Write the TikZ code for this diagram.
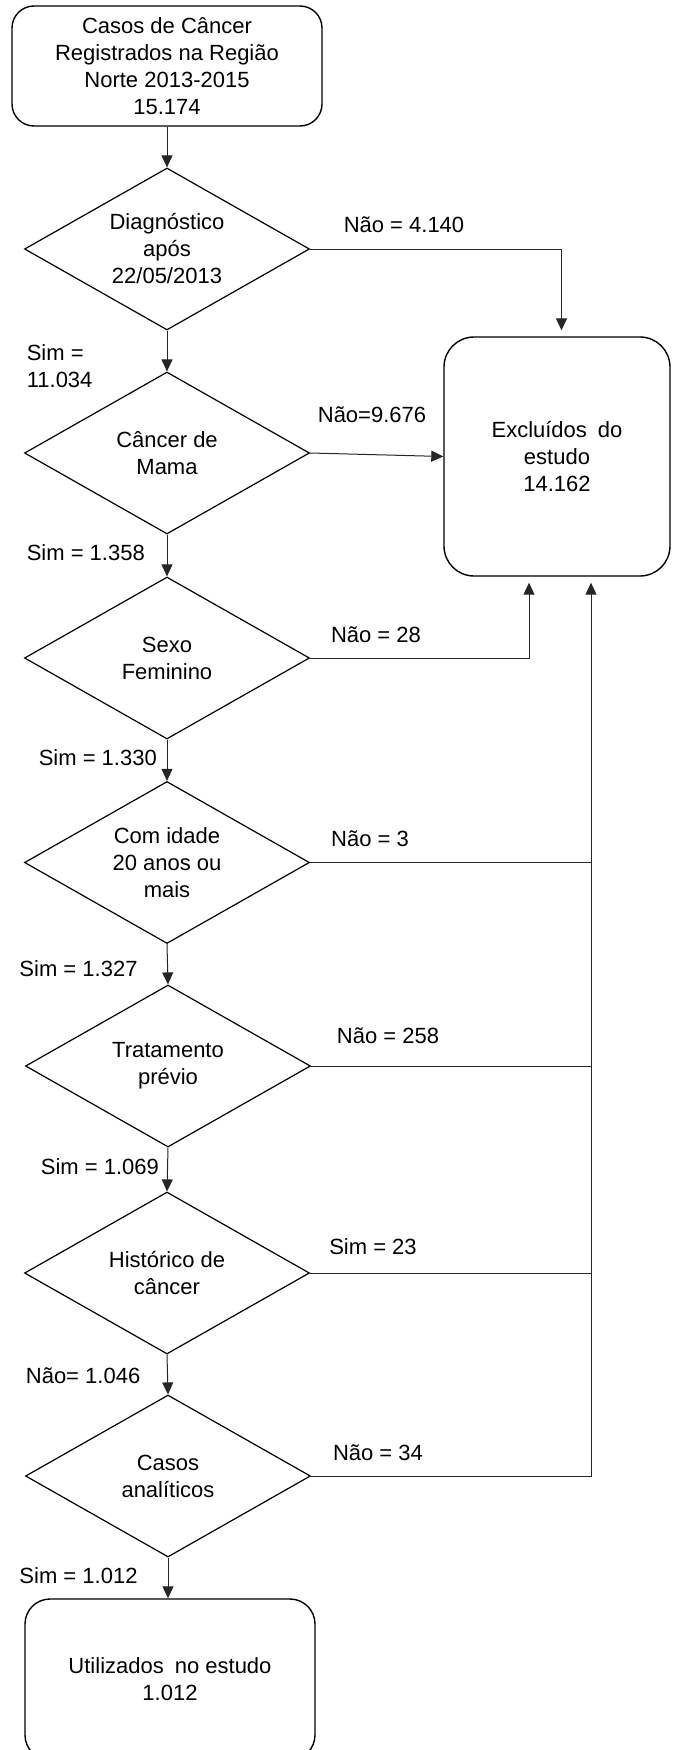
\documentclass[tikz,border=0pt]{standalone}
\usepackage{fontspec}
\setmainfont{Liberation Sans}
\usetikzlibrary{shapes.geometric,arrows.meta,calc}
\begin{document}
\begin{tikzpicture}[x=1pt,y=-1pt,
  every node/.style={font=\fontsize{22}{27}\selectfont},
  box/.style={draw=black,line width=1.4pt,rounded corners=#1,align=center,inner sep=0pt},
  dec/.style={draw=black,line width=1.2pt,diamond,aspect=1.76,minimum width=285pt,minimum height=162pt,inner sep=0pt,align=center},
  lbl/.style={inner sep=0pt},
  conn/.style={draw=black!85,line width=1pt},
  arr/.style={conn,-{Triangle[length=12pt,width=11pt]}}]
\useasboundingbox (0,0) rectangle (672,1750);

% main column
\node[box=22pt,minimum width=310pt,minimum height=120pt] (top) at (167,66) {Casos de Câncer\\Registrados na Região\\Norte 2013-2015\\15.174};
\node[dec] (d1) at (167,249) {Diagnóstico\\após\\22/05/2013};
\node[dec] (d2) at (167,453) {Câncer de\\Mama};
\node[dec] (d3) at (167,658) {Sexo\\Feminino};
\node[dec] (d4) at (167,862.5) {Com idade\\20 anos ou\\mais};
\node[dec] (d5) at (168,1066) {Tratamento\\prévio};
\node[dec] (d6) at (167,1273) {Histórico de\\câncer};
\node[dec] (d7) at (168,1476) {Casos\\analíticos};
\node[box=25pt,minimum width=290pt,minimum height=161pt] (use) at (170,1679.5) {Utilizados\hspace{0.5em}no estudo\\1.012};

% excluded box
\node[box=30pt,minimum width=226pt,minimum height=239pt] (exc) at (557,456.5) {Excluídos\hspace{0.5em}do\\estudo\\14.162};

% vertical flow
\draw[arr] (top.south) -- (d1.north);
\draw[arr] (d1.south) -- (d2.north);
\draw[arr] (d2.south) -- (d3.north);
\draw[arr] (d3.south) -- (d4.north);
\draw[arr] (d4.south) -- (d5.north);
\draw[arr] (d5.south) -- (d6.north);
\draw[arr] (d6.south) -- (d7.north);
\draw[arr] (d7.south) -- (d7.south |- use.north);

% exclusion connectors
\coordinate (tk) at (591,0);
\draw[arr,shorten >=6pt] (d1.east) -| ([xshift=4.5pt]exc.north);
\draw[arr] (d2.east) -- (exc.west);
\draw[arr,shorten >=6pt] (d3.east) -| ([xshift=-28pt]exc.south);
\draw[arr,shorten >=6pt] (d7.east) -| ([xshift=34pt]exc.south);
\draw[conn] (d4.east) -- (d4.east -| tk);
\draw[conn] (d5.east) -- (d5.east -| tk);
\draw[conn] (d6.east) -- (d6.east -| tk);

% labels
\node[lbl,anchor=west,align=left] (l1) at (26.6,366) {Sim =\\11.034};
\node[lbl,anchor=west] (l2) at (26.6,553) {Sim = 1.358};
\node[lbl,anchor=west] (l3) at (38.6,758) {Sim = 1.330};
\node[lbl,anchor=west] (l4) at (19.3,969) {Sim = 1.327};
\node[lbl,anchor=west] (l5) at (40.7,1167) {Sim = 1.069};
\node[lbl,anchor=west] (l6) at (25.7,1376) {Não= 1.046};
\node[lbl,anchor=west] (l7) at (19.3,1576) {Sim = 1.012};

\node[lbl] (n1) at (404,225) {Não = 4.140};
\node[lbl] (n2) at (372,415) {Não=9.676};
\node[lbl] (n3) at (376,635) {Não = 28};
\node[lbl] (n4) at (370,839) {Não = 3};
\node[lbl] (n5) at (388,1036) {Não = 258};
\node[lbl] (n6) at (373,1247) {Sim = 23};
\node[lbl] (n7) at (378,1453) {Não = 34};
\end{tikzpicture}
\end{document}
